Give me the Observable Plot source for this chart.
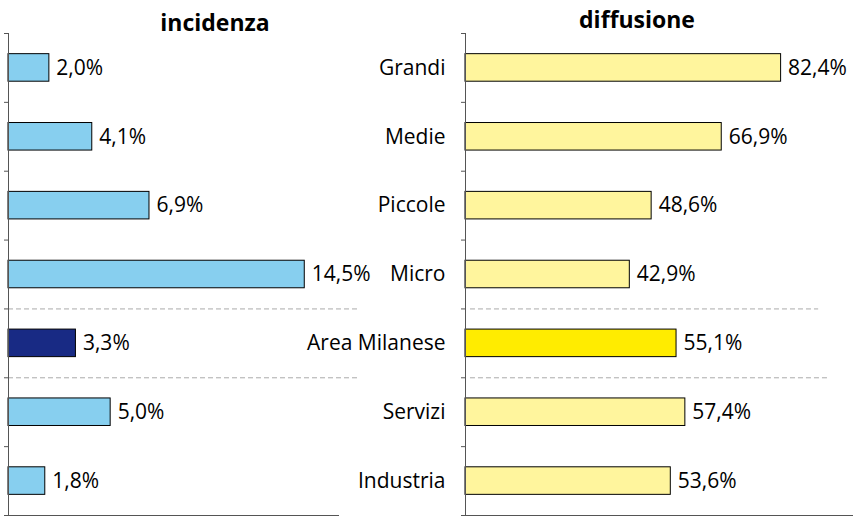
<!DOCTYPE html>
<html>
<head>
<meta charset="utf-8">
<script src="https://cdn.jsdelivr.net/npm/d3@7"></script>
<script src="https://cdn.jsdelivr.net/npm/@observablehq/plot@0.6"></script>
<style>
  html, body { margin: 0; padding: 0; background: #fff; }
  #chart { position: relative; width: 853px; height: 516px; font-family: "Open Sans", sans-serif; }
  #chart svg { position: absolute; left: 0; top: 0; }
  .title { position: absolute; font-weight: bold; font-size: 23px; color: #000; transform: translateX(-50%); white-space: nowrap; line-height: 1; }
</style>
</head>
<body>
<div id="chart">
  <div class="title" id="t1" style="left:215px; top:11px;">incidenza</div>
  <div class="title" id="t2" style="left:637px; top:8px;">diffusione</div>
</div>
<script>
const categories = ["Grandi", "Medie", "Piccole", "Micro", "Area Milanese", "Servizi", "Industria"];
const incidenza = [2.0, 4.1, 6.9, 14.5, 3.3, 5.0, 1.8];
const diffusione = [82.4, 66.9, 48.6, 42.9, 55.1, 57.4, 53.6];
const highlight = "Area Milanese";
const separators = [4, 5];
const boundaries = d3.range(categories.length + 1);

const rows = categories.map((c, i) => ({category: c, i, incidenza: incidenza[i], diffusione: diffusione[i]}));
const fmt = v => v.toFixed(1).replace(".", ",") + "%";

const font = {background: "transparent", fontFamily: "'Open Sans', sans-serif", fontSize: "21px", color: "#000"};
const axisColor = "#555";
const labelSize = 21;

const left = Plot.plot({
  width: 853, height: 516,
  marginLeft: 8, marginRight: 514, marginTop: 33, marginBottom: 1,
  x: {domain: [0, 16.2], axis: null},
  y: {domain: [0, categories.length], reverse: true, axis: null},
  style: font,
  marks: [
    Plot.ruleY(separators, {x1: 0, x2: 17.1, stroke: "#aaa", strokeDasharray: "5,3"}),
    Plot.rect(rows, {
      x1: 0, x2: "incidenza",
      y1: d => d.i + 0.3, y2: d => d.i + 0.7,
      fill: d => d.category === highlight ? "#182a84" : "#87cfef",
      stroke: "#000", strokeWidth: 1
    }),
    Plot.axisY({ticks: boundaries, tickSize: 4, tickFormat: () => "", stroke: axisColor}),
    Plot.ruleX([0], {y1: 0, y2: categories.length, stroke: axisColor}),
    Plot.ruleY([categories.length], {stroke: axisColor}),
    Plot.text(rows, {x: "incidenza", y: d => d.i + 0.5, text: d => fmt(d.incidenza), dx: 7, textAnchor: "start", fontSize: labelSize, fill: "#000"})
  ]
});

const right = Plot.plot({
  width: 853, height: 516,
  marginLeft: 465, marginRight: 0, marginTop: 33, marginBottom: 1,
  x: {domain: [0, 101.3], axis: null},
  y: {domain: [0, categories.length], reverse: true, axis: null},
  style: font,
  marks: [
    Plot.ruleY(separators, {x1: 1.3, x2: d => d === 4 ? 92.2 : 94.8, stroke: "#aaa", strokeDasharray: "5,3"}),
    Plot.rect(rows, {
      x1: 0, x2: "diffusione",
      y1: d => d.i + 0.3, y2: d => d.i + 0.7,
      fill: d => d.category === highlight ? "#ffec00" : "#fff59d",
      stroke: "#000", strokeWidth: 1
    }),
    Plot.axisY({ticks: boundaries, tickSize: 4, tickFormat: () => "", stroke: axisColor}),
    Plot.ruleX([0], {y1: 0, y2: categories.length, stroke: axisColor}),
    Plot.ruleY([categories.length], {stroke: axisColor}),
    Plot.text(rows, {x: 0, y: d => d.i + 0.5, text: "category", dx: -20, textAnchor: "end", fontSize: labelSize, fill: "#000"}),
    Plot.text(rows, {x: "diffusione", y: d => d.i + 0.5, text: d => fmt(d.diffusione), dx: 7, textAnchor: "start", fontSize: labelSize, fill: "#000"})
  ]
});

document.getElementById("chart").appendChild(left);
document.getElementById("chart").appendChild(right);
</script>
</body>
</html>
